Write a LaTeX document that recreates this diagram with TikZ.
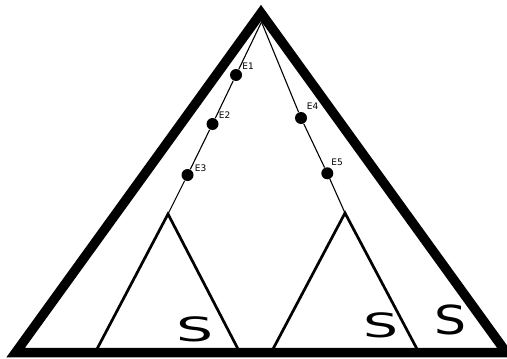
\documentclass[tikz,border=0pt]{standalone}
\usepackage{fontspec}
\usepackage{graphicx}
\setmainfont{DejaVu Sans}
\tikzset{
  outer/.style={line width=4.75pt, line join=miter},
  subtree/.style={line width=1.35pt, line join=miter},
  branch/.style={line width=0.55pt},
  dot/.style={circle, fill=black, inner sep=0pt, minimum size=6pt},
  elabel/.style={inner sep=0pt, anchor=base west, font=\fontsize{4.5pt}{5pt}\selectfont},
  slabel/.style={inner sep=0pt}
}
\begin{document}
\begin{tikzpicture}[x=0.5pt,y=-0.5pt]
\useasboundingbox (0,0) rectangle (507,358);
% main triangle
\coordinate (bl) at (15.7,352.5);
\coordinate (apex) at (261,13);
\coordinate (br) at (506.3,352.5);
\draw[outer] (bl) -- (apex) -- (br) -- cycle;
% branch start and subtree apexes
\coordinate (top) at (261.5,22);
\coordinate (la) at (168,214);
\coordinate (ra) at (345,213);
\coordinate (lf1) at (97,349);
\coordinate (lf2) at (238,349);
\coordinate (rf1) at (273,349);
\coordinate (rf2) at (417,349);
% dots
\node[dot] (e1) at (236,75) {};
\node[dot] (e2) at (212.5,124) {};
\node[dot] (e3) at (187.5,175) {};
\node[dot] (e4) at (301,118) {};
\node[dot] (e5) at (327.3,173.3) {};
% branches
\draw[branch] (top) -- (e1) -- (e2) -- (e3) -- (la);
\draw[branch] (top) -- (e4) -- (e5) -- (ra);
% subtrees
\draw[subtree] (lf1) -- (la) -- (lf2);
\draw[subtree] (rf1) -- (ra) -- (rf2);
% edge labels
\node[elabel] (l1) at (242,69) {E1};
\node[elabel] (l2) at (218.5,119) {E2};
\node[elabel] (l3) at (194.5,171) {E3};
\node[elabel] (l4) at (306.5,109.5) {E4};
\node[elabel] (l5) at (331,165) {E5};
% S labels
\node[slabel] (s1) at (195,329.5) {\scalebox{1.75}[1]{\fontsize{16.7pt}{17pt}\selectfont S}};
\node[slabel] (s2) at (381,325.5) {\scalebox{1.65}[1]{\fontsize{16.7pt}{17pt}\selectfont S}};
\node[slabel] (s3) at (450,319.7) {\scalebox{1.26}[1]{\fontsize{20pt}{20pt}\selectfont S}};
\end{tikzpicture}
\end{document}
